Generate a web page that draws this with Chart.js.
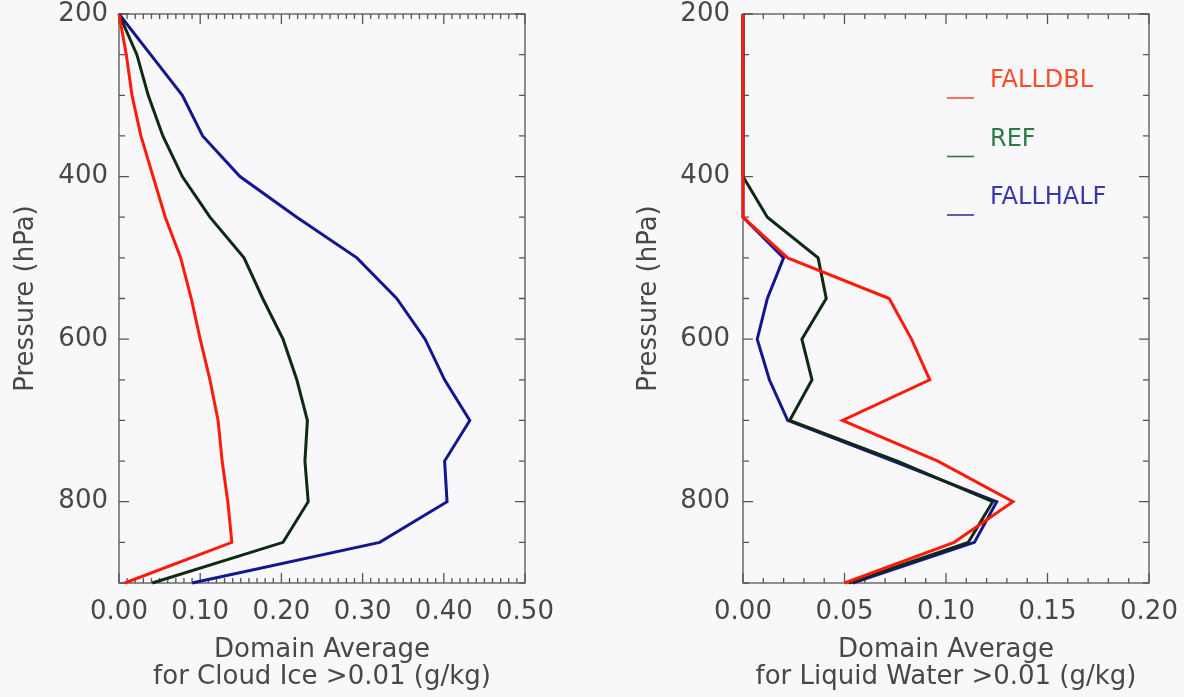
<!DOCTYPE html>
<html>
<head>
<meta charset="utf-8">
<script src="https://cdn.jsdelivr.net/npm/chart.js@4.4.1/dist/chart.umd.min.js"></script>
<style>
body { margin: 0; background: #f8f8fa; width: 1184px; height: 697px; overflow: hidden; position: relative; }
canvas { position: absolute; top: 0; }
#iceChart { left: 0; }
#liqChart { left: 600px; }
</style>
</head>
<body>
<canvas id="iceChart" width="580" height="697"></canvas>
<canvas id="liqChart" width="584" height="697"></canvas>
<script>
// pressure levels (hPa), shared by every profile
const levels = [200, 250, 300, 350, 400, 450, 500, 550, 600, 650, 700, 750, 800, 850, 900]
const seriesNames = ['FALLDBL', 'REF', 'FALLHALF']

// cloud ice (g/kg)
const iceDbl  = [0.000, 0.009, 0.016, 0.027, 0.042, 0.057, 0.076, 0.089, 0.100, 0.112, 0.122, 0.127, 0.134, 0.139, 0.007]
const iceRef  = [0.000, 0.022, 0.036, 0.054, 0.078, 0.112, 0.154, 0.177, 0.202, 0.219, 0.232, 0.229, 0.233, 0.202, 0.041]
const iceHalf = [0.000, 0.039, 0.078, 0.103, 0.149, 0.219, 0.293, 0.342, 0.377, 0.401, 0.432, 0.401, 0.404, 0.321, 0.090]

// liquid water (g/kg)
const liqDbl  = [0.000, 0.000, 0.000, 0.000, 0.000, 0.000, 0.022, 0.072, 0.083, 0.092, 0.049, 0.096, 0.133, 0.104, 0.050]
const liqRef  = [0.000, 0.000, 0.000, 0.000, 0.000, 0.012, 0.037, 0.041, 0.029, 0.034, 0.023, 0.076, 0.123, 0.111, 0.052]
const liqHalf = [0.000, 0.000, 0.000, 0.000, 0.000, 0.000, 0.020, 0.012, 0.007, 0.013, 0.022, 0.074, 0.125, 0.114, 0.054]

// tick labels
const pressureTicks = [200, 400, 600, 800]
const iceTicks = [0.0, 0.1, 0.2, 0.3, 0.4, 0.5]
const liqTicks = [0.0, 0.05, 0.10, 0.15, 0.20]

const lineColors = ['#ff1a0a', '#0e2a12', '#141690']
const legendColors = ['#ff4a26', '#2a7a44', '#3838aa']
const textColor = '#484848'
const fontFamily = '"DejaVu Sans", "Liberation Sans", sans-serif'

// frame around the plot with inward major/minor ticks on all four sides
const boxTicks = {
    id: 'boxTicks',
    beforeDatasetsDraw(chart, args, o) {
        const {ctx, chartArea: a} = chart
        const sx = chart.scales.x, sy = chart.scales.y
        ctx.save()
        ctx.strokeStyle = '#555'
        ctx.lineWidth = 1.3
        ctx.strokeRect(a.left, a.top, a.right - a.left, a.bottom - a.top)
        ctx.beginPath()
        const nx = Math.round((sx.max - sx.min) / o.xMinor)
        for (let i = 0; i <= nx; i++) {
            const px = sx.getPixelForValue(sx.min + i * o.xMinor)
            const len = i % o.xEvery === 0 ? 10 : 5
            ctx.moveTo(px, a.bottom); ctx.lineTo(px, a.bottom - len)
            ctx.moveTo(px, a.top); ctx.lineTo(px, a.top + len)
        }
        const ny = Math.round((sy.max - sy.min) / 50)
        for (let i = 0; i <= ny; i++) {
            const py = sy.getPixelForValue(sy.min + i * 50)
            const len = i % 4 === 0 ? 10 : 6
            ctx.moveTo(a.left, py); ctx.lineTo(a.left + len, py)
            ctx.moveTo(a.right, py); ctx.lineTo(a.right - len, py)
        }
        ctx.stroke()
        ctx.restore()
    }
}

// legend in the upper right of the liquid water panel: name, short line under it
const sideLegend = {
    id: 'sideLegend',
    afterDraw(chart) {
        const ctx = chart.ctx
        ctx.save()
        ctx.font = '24px ' + fontFamily
        ctx.textBaseline = 'alphabetic'
        seriesNames.forEach((name, i) => {
            const y = 87 + i * 58.5
            ctx.fillStyle = legendColors[i]
            ctx.fillText(name, 390, y)
            ctx.strokeStyle = legendColors[i]
            ctx.lineWidth = 1.6
            ctx.beginPath()
            ctx.moveTo(347, y + 11)
            ctx.lineTo(374, y + 11)
            ctx.stroke()
        })
        ctx.restore()
    }
}

function makeChart(id, series, xTicks, xTitle, cfg) {
    const datasets = series.map((vals, i) => ({
        label: seriesNames[i],
        data: levels.map((p, k) => ({x: vals[k], y: p})),
        borderColor: lineColors[i],
        borderWidth: 3,
        pointRadius: 0,
        showLine: true,
        tension: 0,
        fill: false,
        clip: 3
    }))
    return new Chart(document.getElementById(id).getContext('2d'), {
        type: 'scatter',
        data: {datasets: datasets},
        plugins: cfg.plugins,
        options: {
            responsive: false,
            animation: false,
            events: [],
            layout: {padding: {top: 14, right: cfg.padRight, bottom: 0, left: 0}},
            plugins: {
                legend: {display: false},
                tooltip: {enabled: false},
                boxTicks: {xMinor: 0.01, xEvery: cfg.xEvery}
            },
            scales: {
                x: {
                    type: 'linear',
                    min: xTicks[0],
                    max: xTicks[xTicks.length - 1],
                    afterBuildTicks: s => { s.ticks = xTicks.map(v => ({value: v})) },
                    afterFit: s => { s.height = 114 },
                    grid: {display: true, drawOnChartArea: false, color: 'transparent', tickLength: 16},
                    border: {display: false},
                    ticks: {
                        padding: 0, color: textColor, maxRotation: 0, autoSkip: false,
                        font: {family: fontFamily, size: 26, lineHeight: 1},
                        callback: v => v.toFixed(2)
                    },
                    title: {
                        display: true,
                        text: ['Domain Average', xTitle],
                        color: textColor,
                        font: {family: fontFamily, size: 26, lineHeight: 1.04},
                        padding: {top: 0, bottom: 6}
                    }
                },
                y: {
                    type: 'linear',
                    reverse: true,
                    min: 200,
                    max: 900,
                    afterBuildTicks: s => { s.ticks = pressureTicks.map(v => ({value: v})) },
                    afterFit: s => { s.width = cfg.yWidth },
                    grid: {display: true, drawOnChartArea: false, color: 'transparent', tickLength: cfg.yGap},
                    border: {display: false},
                    ticks: {padding: 0, color: textColor, font: {family: fontFamily, size: 26, lineHeight: 1}},
                    title: {
                        display: true,
                        text: 'Pressure (hPa)',
                        color: textColor,
                        font: {family: fontFamily, size: 26, lineHeight: 1.15},
                        padding: {top: cfg.yTitlePad, bottom: 0}
                    }
                }
            }
        }
    })
}

makeChart('iceChart', [iceDbl, iceRef, iceHalf], iceTicks, 'for Cloud Ice >0.01 (g/kg)',
    {padRight: 55, yWidth: 119, yGap: 11, yTitlePad: 11, xEvery: 10, plugins: [boxTicks]})

makeChart('liqChart', [liqDbl, liqRef, liqHalf], liqTicks, 'for Liquid Water >0.01 (g/kg)',
    {padRight: 35, yWidth: 143, yGap: 13, yTitlePad: 34, xEvery: 5, plugins: [boxTicks, sideLegend]})
</script>
</body>
</html>
